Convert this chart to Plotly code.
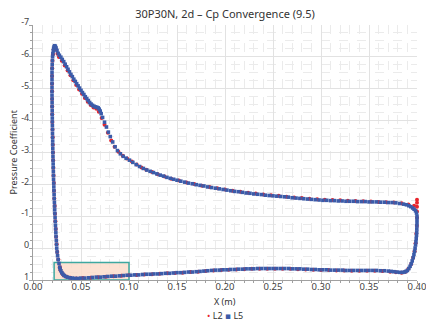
import plotly.graph_objects as go

# ---------------- data (x in m, pressure coefficient) ----------------
x_tick_vals = [0.00, 0.05, 0.10, 0.15, 0.20, 0.25, 0.30, 0.35, 0.40]
x_tick_text = ["0.00", "0.05", "0.10", "0.15", "0.20", "0.25", "0.30", "0.35", "0.40"]
y_tick_vals = [-7, -6, -5, -4, -3, -2, -1, 0, 1]
y_tick_text = ["-7", "-6", "-5", "-4", "-3", "-2", "-1", "0", "1"]
series_names = ["L2", "L5"]
series_colors = ["#e8262d", "#3b5ba9"]

# L5 (fine level)
l5_leading_edge = [
    (0.0278, 0.60), (0.0271, 0.48), (0.0262, 0.36), (0.0256, 0.24), (0.0251, 0.12), (0.0247, 0.00), (0.0245, -0.12), (0.0243, -0.24), (0.0240, -0.36), (0.0238, -0.48),
    (0.0236, -0.60), (0.0234, -0.72), (0.0232, -0.84), (0.0230, -0.96), (0.0228, -1.08), (0.0226, -1.20), (0.0225, -1.32), (0.0223, -1.44), (0.0221, -1.56), (0.0220, -1.68),
    (0.0218, -1.80), (0.0217, -1.92), (0.0216, -2.04), (0.0214, -2.16), (0.0213, -2.28), (0.0212, -2.40), (0.0211, -2.52), (0.0210, -2.64), (0.0209, -2.76), (0.0208, -2.88),
    (0.0207, -3.00), (0.0206, -3.12), (0.0205, -3.24), (0.0205, -3.36), (0.0204, -3.48), (0.0203, -3.60), (0.0203, -3.72), (0.0202, -3.84), (0.0201, -3.96), (0.0201, -4.08),
    (0.0200, -4.20), (0.0200, -4.32), (0.0199, -4.44), (0.0199, -4.56), (0.0199, -4.68), (0.0198, -4.80), (0.0198, -4.92), (0.0198, -5.04), (0.0198, -5.16), (0.0198, -5.28),
    (0.0198, -5.40), (0.0198, -5.52), (0.0199, -5.64), (0.0200, -5.76), (0.0202, -5.88), (0.0204, -6.00), (0.0207, -6.10), (0.0211, -6.19), (0.0215, -6.27), (0.0220, -6.32),
    (0.0226, -6.35), (0.0233, -6.33), (0.0240, -6.28), (0.0250, -6.20), (0.0262, -6.11),
]
l5_upper = [
    (0.0275, -6.05), (0.0290, -5.99), (0.0305, -5.92), (0.0320, -5.85), (0.0335, -5.77), (0.0350, -5.69), (0.0365, -5.61), (0.0380, -5.53), (0.0395, -5.45), (0.0410, -5.38),
    (0.0425, -5.30), (0.0440, -5.23), (0.0455, -5.16), (0.0470, -5.09), (0.0485, -5.02), (0.0500, -4.95), (0.0515, -4.88), (0.0530, -4.82), (0.0545, -4.75), (0.0560, -4.69),
    (0.0575, -4.63), (0.0590, -4.57), (0.0605, -4.52), (0.0620, -4.48), (0.0635, -4.45), (0.0650, -4.43), (0.0665, -4.42), (0.0680, -4.40), (0.0690, -4.36), (0.0700, -4.30),
    (0.0710, -4.22), (0.0725, -4.10), (0.0745, -3.95), (0.0765, -3.80), (0.0785, -3.64), (0.0805, -3.50), (0.0830, -3.33), (0.0855, -3.18), (0.0880, -3.06), (0.0910, -2.96),
    (0.0940, -2.88), (0.0970, -2.82), (0.1005, -2.76), (0.1040, -2.69), (0.1075, -2.62), (0.1110, -2.56), (0.1150, -2.50), (0.1185, -2.45), (0.1220, -2.41), (0.1255, -2.37),
    (0.1290, -2.33), (0.1325, -2.29), (0.1360, -2.26), (0.1395, -2.22), (0.1430, -2.19), (0.1465, -2.16), (0.1500, -2.13), (0.1540, -2.10), (0.1580, -2.07), (0.1620, -2.04),
    (0.1660, -2.02), (0.1700, -1.99), (0.1740, -1.97), (0.1780, -1.95), (0.1820, -1.92), (0.1860, -1.90), (0.1900, -1.88), (0.1940, -1.86), (0.1980, -1.84), (0.2020, -1.82),
    (0.2060, -1.80), (0.2100, -1.78), (0.2140, -1.77), (0.2180, -1.75), (0.2220, -1.73), (0.2260, -1.72), (0.2300, -1.70), (0.2340, -1.69), (0.2380, -1.68), (0.2420, -1.66),
    (0.2460, -1.65), (0.2500, -1.64), (0.2540, -1.63), (0.2580, -1.62), (0.2620, -1.61), (0.2660, -1.60), (0.2700, -1.58), (0.2740, -1.57), (0.2780, -1.56), (0.2820, -1.55),
    (0.2860, -1.54), (0.2900, -1.53), (0.2940, -1.52), (0.2980, -1.51), (0.3020, -1.50), (0.3060, -1.50), (0.3100, -1.49), (0.3140, -1.49), (0.3180, -1.48), (0.3220, -1.48),
    (0.3260, -1.47), (0.3300, -1.47), (0.3340, -1.47), (0.3380, -1.46), (0.3420, -1.46), (0.3460, -1.46), (0.3500, -1.45), (0.3540, -1.45), (0.3580, -1.45), (0.3620, -1.44),
    (0.3660, -1.44), (0.3700, -1.43), (0.3740, -1.43), (0.3780, -1.42), (0.3820, -1.40), (0.3860, -1.38), (0.3890, -1.36), (0.3915, -1.33), (0.3935, -1.30), (0.3955, -1.26),
    (0.3970, -1.22), (0.3985, -1.17), (0.3995, -1.10),
]
l5_trailing_edge = [
    (0.4000, -1.00), (0.4000, -0.90), (0.4000, -0.80), (0.3999, -0.70), (0.3998, -0.60), (0.3997, -0.50), (0.3995, -0.40), (0.3992, -0.30), (0.3989, -0.20), (0.3985, -0.10),
    (0.3980, 0.00), (0.3975, 0.10), (0.3968, 0.20), (0.3960, 0.30), (0.3950, 0.40), (0.3940, 0.49), (0.3928, 0.57), (0.3915, 0.64), (0.3900, 0.70), (0.3885, 0.73),
    (0.3870, 0.75),
]
l5_lower = [
    (0.3850, 0.76), (0.3820, 0.76), (0.3790, 0.75), (0.3760, 0.74), (0.3730, 0.73), (0.3700, 0.72), (0.3660, 0.71), (0.3620, 0.71), (0.3580, 0.70), (0.3540, 0.70),
    (0.3500, 0.70), (0.3460, 0.70), (0.3420, 0.70), (0.3380, 0.70), (0.3340, 0.70), (0.3300, 0.70), (0.3260, 0.70), (0.3220, 0.69), (0.3180, 0.69), (0.3140, 0.69),
    (0.3100, 0.69), (0.3060, 0.68), (0.3020, 0.68), (0.2980, 0.68), (0.2940, 0.67), (0.2900, 0.67), (0.2860, 0.66), (0.2820, 0.66), (0.2780, 0.65), (0.2740, 0.65),
    (0.2700, 0.65), (0.2660, 0.64), (0.2620, 0.64), (0.2580, 0.64), (0.2540, 0.64), (0.2500, 0.64), (0.2460, 0.64), (0.2420, 0.64), (0.2380, 0.64), (0.2340, 0.64),
    (0.2300, 0.65), (0.2260, 0.65), (0.2220, 0.65), (0.2180, 0.66), (0.2140, 0.66), (0.2100, 0.67), (0.2060, 0.67), (0.2020, 0.68), (0.1980, 0.68), (0.1940, 0.69),
    (0.1900, 0.69), (0.1860, 0.70), (0.1820, 0.71), (0.1780, 0.72), (0.1740, 0.73), (0.1700, 0.74), (0.1660, 0.75), (0.1620, 0.75), (0.1580, 0.76), (0.1540, 0.77),
    (0.1500, 0.77), (0.1460, 0.78), (0.1420, 0.79), (0.1380, 0.79), (0.1340, 0.80), (0.1300, 0.81), (0.1260, 0.81), (0.1220, 0.82), (0.1180, 0.82), (0.1140, 0.83),
    (0.1100, 0.84), (0.1060, 0.84), (0.1020, 0.85), (0.0980, 0.85), (0.0940, 0.86), (0.0900, 0.87), (0.0860, 0.88), (0.0820, 0.88), (0.0780, 0.89), (0.0740, 0.90),
    (0.0700, 0.91), (0.0660, 0.91), (0.0620, 0.92), (0.0580, 0.93), (0.0540, 0.94), (0.0500, 0.94), (0.0470, 0.95), (0.0440, 0.95), (0.0410, 0.94), (0.0385, 0.93),
    (0.0360, 0.91), (0.0340, 0.89), (0.0325, 0.86), (0.0312, 0.82), (0.0300, 0.77), (0.0290, 0.71), (0.0283, 0.66),
]

# L2 (coarse level)
l2_leading_edge = [
    (0.0280, 0.60), (0.0264, 0.36), (0.0253, 0.12), (0.0246, -0.12), (0.0241, -0.36), (0.0237, -0.60), (0.0233, -0.84), (0.0229, -1.08), (0.0226, -1.32), (0.0222, -1.56),
    (0.0219, -1.80), (0.0217, -2.04), (0.0214, -2.28), (0.0212, -2.52), (0.0210, -2.76), (0.0208, -3.00), (0.0206, -3.24), (0.0205, -3.48), (0.0203, -3.72), (0.0202, -3.96),
    (0.0201, -4.20), (0.0200, -4.44), (0.0199, -4.68), (0.0199, -4.92), (0.0199, -5.16), (0.0199, -5.40), (0.0200, -5.64), (0.0203, -5.88), (0.0208, -6.08), (0.0216, -6.24),
    (0.0225, -6.30), (0.0238, -6.24), (0.0255, -6.10),
]
l2_upper = [
    (0.0270, -6.00), (0.0300, -5.88), (0.0330, -5.73), (0.0360, -5.57), (0.0390, -5.42), (0.0420, -5.27), (0.0450, -5.12), (0.0480, -4.98), (0.0510, -4.84), (0.0540, -4.71),
    (0.0570, -4.59), (0.0600, -4.49), (0.0630, -4.41), (0.0660, -4.37), (0.0685, -4.28), (0.0715, -4.08), (0.0745, -3.87), (0.0780, -3.62), (0.0815, -3.38), (0.0850, -3.18),
    (0.0890, -3.02), (0.0935, -2.90), (0.0980, -2.81), (0.1030, -2.72), (0.1080, -2.62), (0.1130, -2.53), (0.1180, -2.46), (0.1240, -2.39), (0.1300, -2.32), (0.1370, -2.25),
    (0.1440, -2.18), (0.1520, -2.12), (0.1600, -2.06), (0.1680, -2.01), (0.1760, -1.96), (0.1840, -1.92), (0.1920, -1.88), (0.2000, -1.84), (0.2080, -1.80), (0.2160, -1.77),
    (0.2240, -1.74), (0.2320, -1.71), (0.2400, -1.68), (0.2480, -1.66), (0.2560, -1.64), (0.2640, -1.61), (0.2720, -1.59), (0.2800, -1.57), (0.2880, -1.55), (0.2960, -1.53),
    (0.3040, -1.52), (0.3120, -1.51), (0.3200, -1.50), (0.3280, -1.49), (0.3360, -1.48), (0.3440, -1.47), (0.3520, -1.46), (0.3600, -1.45), (0.3680, -1.44), (0.3760, -1.43),
    (0.3840, -1.41), (0.3910, -1.37), (0.3970, -1.33),
]
l2_trailing_edge = [
    (0.4000, -1.52), (0.4000, -1.42), (0.4000, -1.30), (0.4000, -1.15), (0.4000, -0.95), (0.3998, -0.70), (0.3993, -0.45), (0.3985, -0.15), (0.3975, 0.10), (0.3960, 0.30),
    (0.3940, 0.50), (0.3910, 0.65), (0.3880, 0.74),
]
l2_lower = [
    (0.3840, 0.77), (0.3780, 0.76), (0.3720, 0.74), (0.3640, 0.72), (0.3560, 0.71), (0.3480, 0.71), (0.3400, 0.71), (0.3320, 0.71), (0.3240, 0.70), (0.3160, 0.70),
    (0.3080, 0.69), (0.3000, 0.69), (0.2920, 0.68), (0.2840, 0.67), (0.2760, 0.66), (0.2680, 0.65), (0.2600, 0.65), (0.2520, 0.65), (0.2440, 0.65), (0.2360, 0.65),
    (0.2280, 0.65), (0.2200, 0.66), (0.2120, 0.67), (0.2040, 0.68), (0.1960, 0.69), (0.1880, 0.70), (0.1800, 0.72), (0.1720, 0.74), (0.1640, 0.75), (0.1560, 0.77),
    (0.1480, 0.78), (0.1400, 0.79), (0.1320, 0.80), (0.1240, 0.82), (0.1160, 0.83), (0.1080, 0.84), (0.1000, 0.85), (0.0920, 0.87), (0.0840, 0.88), (0.0760, 0.90),
    (0.0680, 0.91), (0.0600, 0.93), (0.0520, 0.94), (0.0450, 0.95), (0.0390, 0.93), (0.0350, 0.90), (0.0320, 0.85), (0.0300, 0.78), (0.0285, 0.69),
]

# highlighted region
box_x = [0.022, 0.100]
box_cp = [0.45, 1.0]

# ---------------- figure ----------------
l5_pts = l5_leading_edge + l5_upper + l5_trailing_edge + l5_lower
l2_pts = l2_leading_edge + l2_upper + l2_trailing_edge + l2_lower

FONT = "Noto Sans, DejaVu Sans, sans-serif"
fig = go.Figure()
fig.add_trace(go.Scatter(
    x=[p[0] for p in l2_pts], y=[p[1] for p in l2_pts], mode="markers", name=series_names[0],
    marker=dict(color=series_colors[0], size=4, symbol="circle", line=dict(width=0)),
    cliponaxis=False, showlegend=False,
))
fig.add_trace(go.Scatter(
    x=[p[0] for p in l5_pts], y=[p[1] for p in l5_pts], mode="markers", name=series_names[1],
    marker=dict(color=series_colors[1], size=3.6, symbol="square", line=dict(width=0)),
    cliponaxis=False, showlegend=False,
))

fig.add_shape(type="rect", xref="x", yref="y",
              x0=box_x[0], x1=box_x[1], y0=box_cp[0], y1=box_cp[1],
              line=dict(color="#3ea8a0", width=1.5),
              fillcolor="rgba(251,221,203,0.85)", layer="between")

axis_common = dict(
    showgrid=True, gridcolor="#e2e2e2", gridwidth=1,
    showline=True, linecolor="#a0a0a0", linewidth=1,
    ticks="outside", ticklen=3, tickcolor="#a0a0a0",
    zeroline=False, automargin=False, ticklabeloverflow="allow",
)

legend_text = (f'<span style="color:{series_colors[0]}">\u2022</span> {series_names[0]} '
               f'<span style="color:{series_colors[1]}">\u25aa</span> {series_names[1]}')

fig.update_layout(
    width=426, height=323,
    margin=dict(l=33, r=9, t=25, b=43, autoexpand=False),
    paper_bgcolor="white", plot_bgcolor="white",
    title=dict(text="30P30N, 2d \u2013 Cp Convergence (9.5)", x=0.5, xref="paper",
               y=0.957, yref="container", yanchor="middle",
               font=dict(family=FONT, size=11, color="#333")),
    xaxis=dict(range=[0, 0.4], tickmode="array", tickvals=x_tick_vals, ticktext=x_tick_text,
               ticklabelstandoff=-5, tickfont=dict(family=FONT, size=9.5, color="#444"),
               minor=dict(tickmode="linear", tick0=0, dtick=0.01, showgrid=True,
                          gridcolor="#ebebeb", griddash="dash", ticks="outside",
                          ticklen=2, tickcolor="#a0a0a0"),
               **axis_common),
    yaxis=dict(range=[1, -7], tickmode="array", tickvals=y_tick_vals, ticktext=y_tick_text,
               ticklabelstandoff=-2, ticklabelshift=3, tickfont=dict(family=FONT, size=9, color="#444"),
               minor=dict(tickmode="linear", tick0=0, dtick=0.25, showgrid=True,
                          gridcolor="#ebebeb", griddash="dash", ticks="outside",
                          ticklen=2, tickcolor="#a0a0a0"),
               **axis_common),
    showlegend=False,
    annotations=[
        dict(text="X (m)", xref="paper", yref="paper", x=0.5, y=-0.085,
             xanchor="center", yanchor="middle", showarrow=False,
             font=dict(family=FONT, size=9, color="#333")),
        dict(text="Pressure Coefficient", xref="paper", yref="paper", x=-0.052, y=0.5,
             xanchor="center", yanchor="middle", textangle=-90, showarrow=False,
             font=dict(family=FONT, size=9, color="#333")),
        dict(text=legend_text, xref="paper", yref="paper", x=0.5, y=-0.139,
             xanchor="center", yanchor="middle", showarrow=False,
             font=dict(family=FONT, size=9, color="#333")),
    ],
)

fig.write_html("out.html")
